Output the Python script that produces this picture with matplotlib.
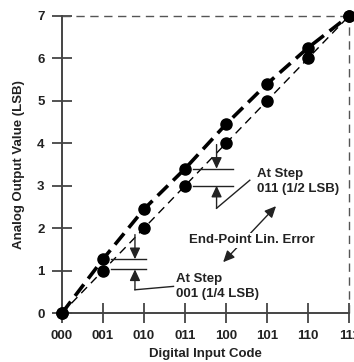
import matplotlib.pyplot as plt
import matplotlib

matplotlib.rc('font', family='Liberation Sans', weight='bold', size=9)

codes = ['000', '001', '010', '011', '100', '101', '110', '111']
ideal = [0, 1, 2, 3, 4, 5, 6, 7]
actual = [0, 1.27, 2.45, 3.4, 4.45, 5.4, 6.25, 7]

fig = plt.figure(figsize=(3.54, 3.62), dpi=100)
ax = fig.add_axes([0.175, 0.135, 0.811, 0.821])
x = list(range(len(codes)))

# ideal and actual transfer curves
ax.plot(x, ideal, '--', color='black', lw=1, dashes=(6, 4), zorder=2)
ax.plot(x, actual, '--', color='black', lw=2.6, dashes=(4, 2), zorder=3)
ax.plot(x, ideal, 'o', color='black', ms=8, zorder=4, clip_on=False)
ax.plot(x, actual, 'o', color='black', ms=8, zorder=4, clip_on=False)

# frame: dashed top / right
ax.plot([0, 7], [7, 7], color='#555555', lw=1, dashes=(6, 4), clip_on=False)
ax.plot([7, 7], [0, 7], color='#555555', lw=1, dashes=(6, 4), clip_on=False)

ax.set_xlim(0, 7)
ax.set_ylim(0, 7)
for s in ['top', 'right']:
    ax.spines[s].set_visible(False)
for s in ['left', 'bottom']:
    ax.spines[s].set_color('#444444')
    ax.spines[s].set_linewidth(1.4)
ax.set_xticks(x)
ax.set_xticklabels(codes)
ax.set_yticks(range(8))
ax.tick_params(direction='inout', length=15, width=1.3, color='#444444',
               labelcolor='#222222', labelsize=9.5)
ax.tick_params(axis='x', pad=5)
ax.tick_params(axis='y', pad=5)
ax.set_xlabel('Digital Input Code', fontsize=9.5, fontweight='bold', color='#222222', labelpad=4)
ax.set_ylabel('Analog Output Value (LSB)', fontsize=9.5, fontweight='bold', color='#222222', labelpad=9)

lc = '#222222'
ap = dict(arrowstyle='-|>,head_length=0.75,head_width=0.35', color=lc, lw=1, shrinkA=0, shrinkB=0)

# step 001 annotation
ax.plot([1.2, 2.05], [1.27, 1.27], color=lc, lw=1)
ax.plot([1.2, 2.05], [1.03, 1.03], color=lc, lw=1)
ax.annotate('', xy=(1.78, 1.27), xytext=(1.78, 1.85), arrowprops=ap)
ax.annotate('', xy=(1.78, 1.03), xytext=(1.78, 0.55), arrowprops=ap)
ax.plot([1.78, 2.72], [0.55, 0.63], color=lc, lw=1)
ax.text(2.78, 0.62, 'At Step\n001 (1/4 LSB)', fontsize=9.5, color='#222222',
        va='center', ha='left', linespacing=1.3)

# step 011 annotation
ax.plot([3.19, 4.17], [3.4, 3.4], color=lc, lw=1)
ax.plot([3.19, 4.17], [3.0, 3.0], color=lc, lw=1)
ax.annotate('', xy=(3.77, 3.4), xytext=(3.77, 3.97), arrowprops=ap)
ax.annotate('', xy=(3.77, 3.0), xytext=(3.77, 2.47), arrowprops=ap)
ax.plot([3.77, 4.58], [2.47, 3.13], color=lc, lw=1)
ax.text(4.75, 3.1, 'At Step\n011 (1/2 LSB)', fontsize=9.5, color='#222222',
        va='center', ha='left', linespacing=1.3)

# end-point error
ap2 = dict(arrowstyle='<|-|>,head_length=0.75,head_width=0.35', color=lc, lw=1, shrinkA=0, shrinkB=0)
ax.annotate('', xy=(5.22, 2.52), xytext=(3.93, 1.2), arrowprops=ap2)
ax.text(4.63, 1.72, 'End-Point Lin. Error', fontsize=9.5, color='#222222',
        va='center', ha='center',
        bbox=dict(facecolor='white', edgecolor='none', pad=1))

fig.savefig('out.png', dpi=100)
